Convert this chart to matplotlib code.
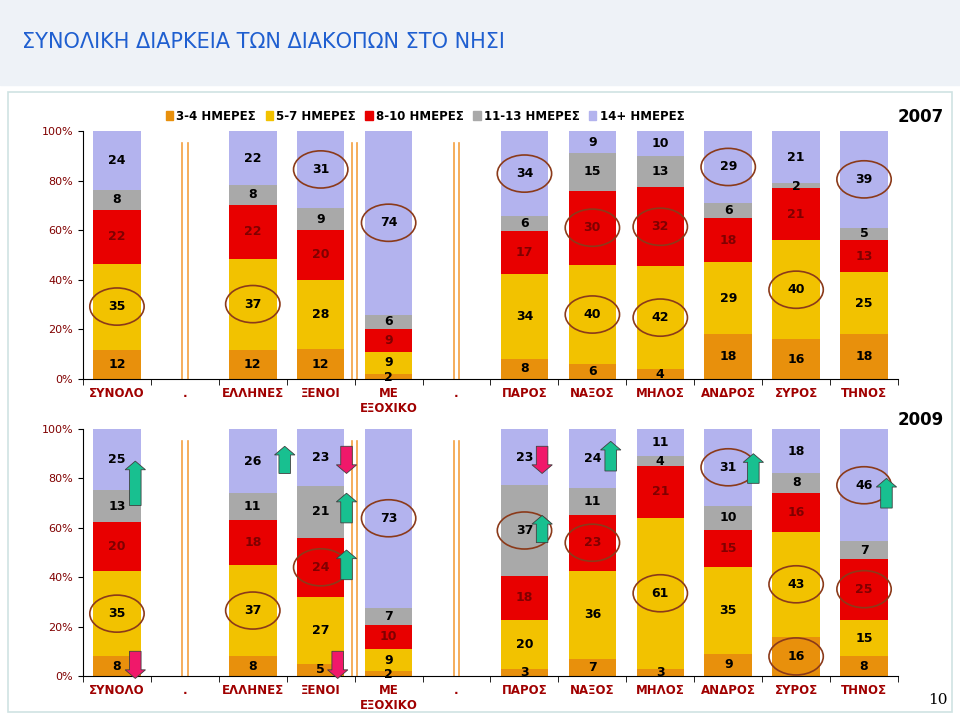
import matplotlib
matplotlib.use("Agg")
import matplotlib.pyplot as plt
from matplotlib.patches import Ellipse, FancyArrow, Rectangle
import numpy as np

categories = ["ΣΥΝΟΛΟ", ".", "ΕΛΛΗΝΕΣ", "ΞΕΝΟΙ", "ΜΕ\nΕΞΟΧΙΚΟ", ".",
              "ΠΑΡΟΣ", "ΝΑΞΟΣ", "ΜΗΛΟΣ", "ΑΝΔΡΟΣ", "ΣΥΡΟΣ", "ΤΗΝΟΣ"]
series = ["3-4 ΗΜΕΡΕΣ", "5-7 ΗΜΕΡΕΣ", "8-10 ΗΜΕΡΕΣ", "11-13 ΗΜΕΡΕΣ", "14+ ΗΜΕΡΕΣ"]
colors = ["#E8900C", "#F2C200", "#E80000", "#A9A9A9", "#B3B3EE"]

# None = empty gap category
d2007 = [[12, 35, 22, 8, 24], None, [12, 37, 22, 8, 22], [12, 28, 20, 9, 31],
         [2, 9, 9, 6, 74], None, [8, 34, 17, 6, 34], [6, 40, 30, 15, 9],
         [4, 42, 32, 13, 10], [18, 29, 18, 6, 29], [16, 40, 21, 2, 21],
         [18, 25, 13, 5, 39]]
d2009 = [[8, 35, 20, 13, 25], None, [8, 37, 18, 11, 26], [5, 27, 24, 21, 23],
         [2, 9, 10, 7, 73], None, [3, 20, 18, 37, 23], [7, 36, 23, 11, 24],
         [3, 61, 21, 4, 11], [9, 35, 15, 10, 31], [16, 43, 16, 8, 18],
         [8, 15, 25, 7, 46]]

# circled labels: (category index, series index)
circ2007 = [(0, 1), (2, 1), (3, 4), (4, 4), (6, 4), (7, 2), (7, 1), (8, 2), (8, 1),
            (9, 4), (10, 1), (11, 4)]
circ2009 = [(0, 1), (2, 1), (3, 2), (4, 4), (6, 3), (7, 2), (8, 1), (9, 4),
            (10, 1), (10, 0), (11, 4), (11, 2)]
# arrows 2009: (category index, x offset, y start, y end, up?)
arrows2009 = [(0, 0.27, 0.69, 0.87, True), (0, 0.27, 0.10, -0.01, False),
              (2, 0.47, 0.82, 0.93, True),
              (3, 0.38, 0.93, 0.82, False), (3, 0.38, 0.62, 0.74, True),
              (3, 0.38, 0.39, 0.51, True), (3, 0.25, 0.10, -0.01, False),
              (6, 0.26, 0.93, 0.82, False), (6, 0.26, 0.54, 0.65, True),
              (7, 0.27, 0.83, 0.95, True), (9, 0.37, 0.78, 0.90, True),
              (11, 0.33, 0.68, 0.80, True)]

fig = plt.figure(figsize=(9.6, 7.16), dpi=100)
fig.patches.append(Rectangle((0, 1 - 85 / 716), 1, 85 / 716, transform=fig.transFigure,
                             color="#EEF2F7", zorder=0))
fig.text(22 / 960, 1 - 42 / 716, "ΣΥΝΟΛΙΚΗ ΔΙΑΡΚΕΙΑ ΤΩΝ ΔΙΑΚΟΠΩΝ ΣΤΟ ΝΗΣΙ",
         color="#1F5FD0", fontsize=15, va="center", ha="left")
fig.patches.append(Rectangle((8 / 960, 0.005), 944 / 960, 1 - 92 / 716 - 0.005,
                             transform=fig.transFigure, fill=False,
                             edgecolor="#CFE3E3", lw=1.2))

x = np.arange(len(categories))


def panel(ax, data, circles, arrows, year):
    for i, vals in enumerate(data):
        if vals is None:
            continue
        v = np.array(vals, float)
        frac = v / v.sum()
        bottom = 0
        for j, f in enumerate(frac):
            ax.bar(x[i], f, 0.7, bottom=bottom, color=colors[j], zorder=2)
            ty = bottom + f / 2
            if vals[j] <= 2:
                ty = bottom + 0.005
            ax.text(x[i], ty, str(vals[j]), ha="center", va="center",
                    fontsize=9, fontweight="bold",
                    color="#800000" if j == 2 else "black", zorder=4)
            if (i, j) in circles:
                ax.add_patch(Ellipse((x[i], ty), 0.8, 0.15, fill=False,
                                     edgecolor="#8B3A1A", lw=1.2, zorder=5))
            bottom += f
    for sx in [1.0, 3.5, 5.0]:
        for dx in (-0.04, 0.04):
            ax.plot([sx + dx, sx + dx], [0, 0.95], color="#F4A040", lw=1.2, zorder=1)
    for (i, dx, y0, y1, up) in arrows:
        ax.add_patch(FancyArrow(x[i] + dx, y0, 0, y1 - y0, width=0.17,
                                head_width=0.3, head_length=0.035,
                                length_includes_head=True,
                                facecolor="#18C090" if up else "#F0186A",
                                edgecolor="#404040", lw=0.6, zorder=6,
                                clip_on=False))
    ax.set_xlim(-0.5, len(categories) - 0.5)
    ax.set_ylim(0, 1)
    ax.set_yticks(np.arange(0, 1.01, 0.2))
    ax.set_yticklabels([f"{int(t * 100)}%" for t in np.arange(0, 1.01, 0.2)],
                       color="#800000", fontsize=8)
    ax.set_xticks(x)
    ax.set_xticklabels(categories, color="#A00000", fontsize=8.5, fontweight="bold",
                       va="top")
    ax.set_xticks(np.arange(-0.5, len(categories)), minor=True)
    ax.tick_params(axis="x", which="major", length=0, pad=6)
    ax.tick_params(axis="x", which="minor", length=4)
    for s in ["top", "right"]:
        ax.spines[s].set_visible(False)
    ax.patch.set_alpha(0)
    ax.text(1.0, 1.02 if year == "2007" else 1.0, year, transform=ax.transAxes,
            fontsize=12, fontweight="bold", ha="left", va="bottom")


ax1 = fig.add_axes([83 / 960, 1 - 379 / 716, 815 / 960, 248 / 716])
ax2 = fig.add_axes([83 / 960, 1 - 676 / 716, 815 / 960, 247 / 716])
panel(ax1, d2007, circ2007, [], "2007")
panel(ax2, d2009, circ2009, arrows2009, "2009")

handles = [Rectangle((0, 0), 1, 1, color=c) for c in colors]
ax1.legend(handles, series, loc="lower center", bbox_to_anchor=(0.42, 0.99), ncol=5,
           frameon=False, handlelength=0.6, handleheight=0.8,
           columnspacing=0.8, handletextpad=0.3, prop={"weight": "bold", "size": 8.5})

fig.text(938 / 960, 1 - 700 / 716, "10", fontsize=11, family="DejaVu Serif",
         ha="center", va="center")
fig.savefig("out.png", dpi=100)
